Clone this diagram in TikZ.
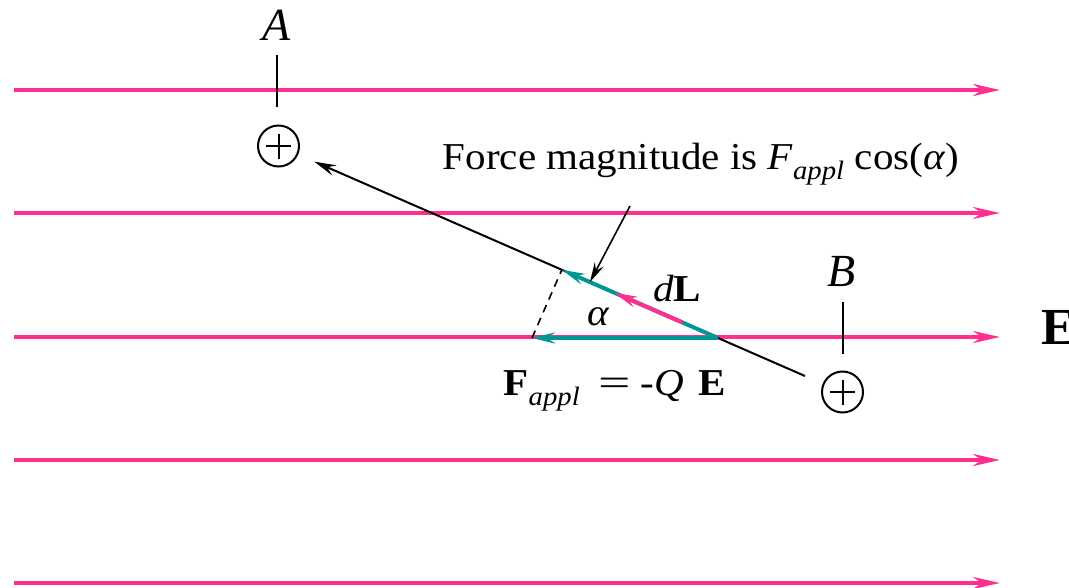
\documentclass[tikz,border=0pt]{standalone}
\usepackage{fontspec}
\setmainfont{Liberation Serif}
\newfontfamily\widefont{Liberation Serif}[FakeStretch=1.08]
\usepackage{xcolor}
\usetikzlibrary{arrows.meta,positioning,calc}

\definecolor{fieldpink}{HTML}{FF2E8F}
\definecolor{forceteal}{HTML}{009696}

\begin{document}
\begin{tikzpicture}[
  x=1pt,y=-1pt,
  lbl/.style={inner sep=0pt,font=\widefont\fontsize{38}{44}\selectfont},
  pointlbl/.style={inner sep=0pt,font=\fontsize{46}{52}\selectfont\itshape},
  field/.style={draw=fieldpink,line width=4pt,-{Stealth[length=27pt,width=12pt,inset=9pt]}},
  force/.style={draw=forceteal,line width=4pt,-{Stealth[length=23pt,width=11pt,inset=8pt]}},
  disp/.style={draw=fieldpink,line width=4pt,-{Stealth[length=23pt,width=11pt,inset=8pt]}},
  path/.style={draw=black,line width=2pt,-{Stealth[length=22pt,width=11pt,inset=8pt]}},
  tick/.style={draw=black,line width=2pt},
  charge/.style={circle,draw,line width=2pt,minimum size=41pt,inner sep=0pt,
    path picture={
      \draw[line width=2pt] ([xshift=8pt]path picture bounding box.west) -- ([xshift=-8pt]path picture bounding box.east);
      \draw[line width=2pt] ([yshift=-8pt]path picture bounding box.north) -- ([yshift=8pt]path picture bounding box.south);
    }}
]
\useasboundingbox (0,0) rectangle (1069,587);

% field lines
\foreach \y [count=\i] in {90,213,337,460,583} {
  \coordinate (fl\i) at (14,\y);
  \coordinate (fr\i) at (1000,\y);
  \draw[field] (fl\i) -- (fr\i);
}
\node[inner sep=0pt,font=\fontsize{52}{58}\selectfont\bfseries] (E) at (1059,327.5) {E};

% charges
\node[charge] (qA) at (278.5,146) {};
\node[charge] (qB) at (842.5,392) {};
\node[pointlbl] (labA) at (277,25) {A};
\node[pointlbl] (labB) at (842,272) {B};
\draw[tick] ($(qA)+(-1.5,-91)$) -- ($(qA)+(-1.5,-39)$);
\draw[tick] ($(qB)+(0,-90)$) -- ($(qB)+(0,-38)$);

% path from B to A
\coordinate (tail) at (805,376);
\coordinate (P) at (718,338);
\draw[path,shorten >=17.5pt] (tail) -- (qA);

% force triangle
\coordinate (Fend) at (532,338);
\coordinate (Proj) at ($(P)!(Fend)!(qA)$);
\draw[black,line width=1.6pt,dash pattern=on 8pt off 6pt] (Fend) -- (Proj);
\draw[force] (P) -- (Fend);
\draw[force] (P) -- (Proj);
\draw[disp] ($(P)!0.081!(qA)$) -- ($(P)!0.236!(qA)$);

% labels
\node[lbl] (alpha) at (599,317) {\textit{α}};
\node[lbl] (dL) at (677,289) {\textit{d}\textbf{L}};
\node[lbl] (Fappl) at (615,390.5) {\textbf{F}\textsubscript{\textit{appl}}\hspace{18pt}\scalebox{1.4}[1]{=}\hspace{10pt}-\textit{Q}\hspace{15pt}\textbf{E}};
\node[lbl] (ftxt) at (701,164) {Force magnitude is \textit{F}\textsubscript{\textit{appl}} cos(\textit{α})};
\coordinate (fstart) at (630,206);
\coordinate (fhit) at ($(P)!0.82!(Proj)$);
\draw[path,line width=1.6pt,-{Stealth[length=20pt,width=10pt,inset=7pt]}] (fstart) -- (fhit);
\end{tikzpicture}
\end{document}
